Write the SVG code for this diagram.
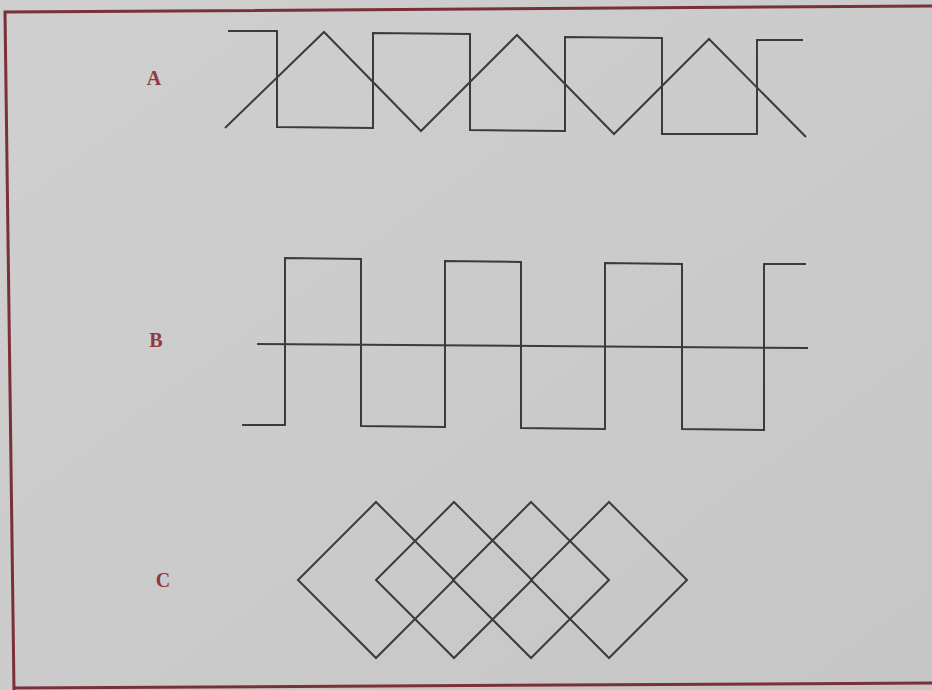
<svg xmlns="http://www.w3.org/2000/svg" width="932" height="690" viewBox="0 0 932 690">
  <style>
    .wave { fill: none; stroke: #3b3b3b; stroke-width: 2; stroke-linejoin: miter; }
    .label { font-family: "Liberation Serif", "Times New Roman", serif; font-size: 20px; font-weight: bold; fill: #8e3a40; text-anchor: middle; }
    .frame { fill: none; stroke: #7a3038; stroke-width: 3; }
  </style>
  <defs>
    <linearGradient id="paper" x1="0" y1="0" x2="1" y2="1">
      <stop offset="0" stop-color="#cfcfcf"/>
      <stop offset="0.5" stop-color="#cbcbcb"/>
      <stop offset="1" stop-color="#c6c6c6"/>
    </linearGradient>
  </defs>
  <rect x="0" y="0" width="932" height="690" fill="url(#paper)"/>
  <polyline class="frame" points="934,6 5,12 14,690"/>
  <line class="frame" x1="14" y1="688" x2="934" y2="683"/>

  <g id="label-A"><text class="label" x="154" y="85">A</text></g>
  <g id="label-B"><text class="label" x="156" y="347">B</text></g>
  <g id="label-C"><text class="label" x="163" y="587">C</text></g>

  <g id="figure-A">
    <polyline class="wave" points="228,31 277,31 277,127 373,128 373,33 470,34 470,130 565,131 565,37 662,38 662,134 757,134 757,40 803,40"/>
    <polyline class="wave" points="225,128 324,32 421,131 517,35 614,134 709,39 806,137"/>
  </g>

  <g id="figure-B">
    <line class="wave" x1="257" y1="344" x2="808" y2="348"/>
    <polyline class="wave" points="242,425 285,425 285,258 361,259 361,426 445,427 445,261 521,262 521,428 605,429 605,263 682,264 682,429 764,430 764,264 806,264"/>
  </g>

  <g id="figure-C">
    <polygon class="wave" points="376,502 454,580 376,658 298,580"/>
    <polygon class="wave" points="454,502 532,580 454,658 376,580"/>
    <polygon class="wave" points="531,502 609,580 531,658 453,580"/>
    <polygon class="wave" points="609,502 687,580 609,658 531,580"/>
  </g>
</svg>
